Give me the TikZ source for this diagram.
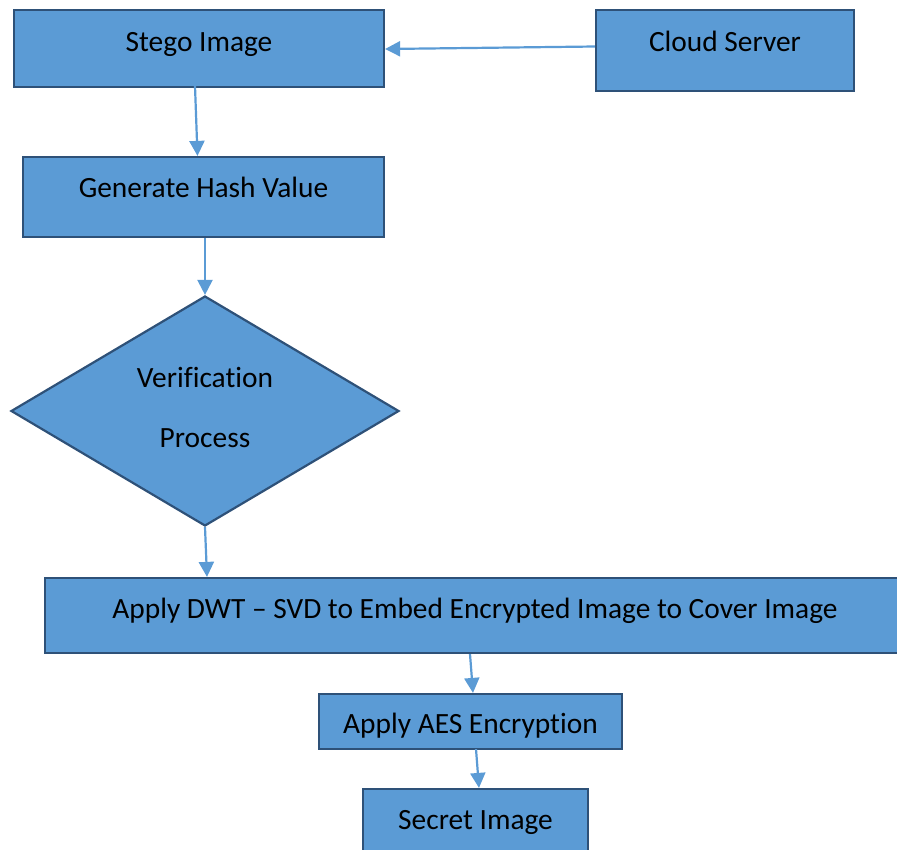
\documentclass[tikz,border=0pt]{standalone}
\usepackage{fontspec}
\setmainfont[Ligatures={NoCommon}]{Carlito}
\usetikzlibrary{shapes.geometric,arrows.meta}
\definecolor{boxfill}{HTML}{5B9BD5}
\definecolor{boxline}{HTML}{2E5178}
\definecolor{arrowc}{HTML}{5B9BD5}
\tikzset{
  box/.style={draw=boxline, fill=boxfill, line width=2.2pt, rectangle, inner sep=0pt},
  txt/.style={font=\fontsize{29.4}{35}\selectfont, text=black, inner sep=0pt},
  flow/.style={draw=arrowc, line width=2.2pt, -{Triangle[length=15pt,width=15pt]}}
}
\begin{document}
\begin{tikzpicture}[x=1pt,y=-1pt]
\useasboundingbox (0,0) rectangle (897,849);
\node[box, minimum width=370pt, minimum height=77pt, label={[txt,yshift=4.5pt]center:Stego Image}] (stego) at (199,48.5) {};
\node[box, minimum width=258pt, minimum height=81pt, label={[txt,yshift=9.5pt]center:Cloud Server}] (cloud) at (725,50.5) {};
\node[box, minimum width=361pt, minimum height=80pt, label={[txt,yshift=10pt]center:Generate Hash Value}] (hash) at (203.5,197) {};
\node[box, diamond, aspect=1.69, minimum width=388pt, minimum height=230pt, align=center, font=\fontsize{29.4}{35}\selectfont, text=black] (verif) at (205,411) {Verification\\[25pt]Process\\[-28pt]\mbox{}};
\node[box, minimum width=860pt, minimum height=75pt, label={[txt,yshift=4.5pt]center:Apply DWT -- SVD to Embed Encrypted Image to Cover Image}] (dwt) at (475,615.5) {};
\node[box, minimum width=303pt, minimum height=55pt, label={[txt,yshift=-4.5pt]center:Apply AES Encryption}] (aes) at (470.5,721.5) {};
\node[box, minimum width=225pt, minimum height=64pt, label={[txt,yshift=-1pt]center:Secret Image}] (secret) at (475.5,821) {};
\draw[flow] ([yshift=4pt]cloud.west) -- ([yshift=-0.5pt]stego.east);
\draw[flow] ([xshift=-4pt,yshift=2pt]stego.south) -- ([xshift=-6pt]hash.north);
\draw[flow] ([xshift=1.5pt]hash.south) -- (verif.north);
\draw[flow] (verif.south) -- ([xshift=-268pt]dwt.north);
\draw[flow] ([xshift=-5pt]dwt.south) -- ([xshift=2.5pt]aes.north);
\draw[flow] ([xshift=5.5pt,yshift=1pt]aes.south) -- ([xshift=3.5pt]secret.north);
\end{tikzpicture}
\end{document}
